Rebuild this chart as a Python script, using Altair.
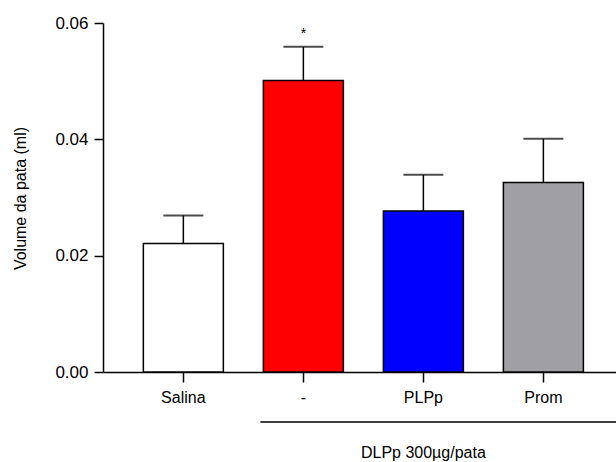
import altair as alt
import pandas as pd

categories = ["Salina", "-", "PLPp", "Prom"]
means = [0.0221, 0.0501, 0.0277, 0.0326]
upper = [0.0269, 0.0559, 0.0339, 0.0401]
colors = ["#FFFFFF", "#FF0000", "#0000FF", "#A0A0A4"]
marks = ["", "*", "", ""]
y_ticks = [0.0, 0.02, 0.04, 0.06]
group_start = ["-"]
group_label_cat = ["PLPp"]
group_label = ["DLPp 300\u00b5g/pata"]

df = pd.DataFrame({"cat": categories, "mean": means, "upper": upper,
                   "color": colors, "mark": marks})
grp_line = pd.DataFrame({"cat": group_start})
grp_text = pd.DataFrame({"cat": group_label_cat, "label": group_label})

FONT = "Liberation Sans"
W, H = 513, 349

xscale = alt.Scale(domain=categories, paddingInner=1/3, paddingOuter=0.304, align=0.553)
xenc = alt.X("cat:N", scale=xscale, sort=categories,
             axis=alt.Axis(title=None, labelAngle=0, labelFontSize=16, labelFont=FONT,
                           labelColor="#000", tickSize=10, tickWidth=1.5, tickColor="#000",
                           domainColor="#000", domainWidth=1.5, labelPadding=7))
yscale = alt.Scale(domain=[0, 0.06], nice=False)
yenc = alt.Y("mean:Q", scale=yscale,
             axis=alt.Axis(title="Volume da pata (ml)", values=y_ticks, format=".2f",
                           grid=False, labelFontSize=17, labelFont=FONT, labelColor="#000",
                           tickSize=9, tickWidth=1.5, tickColor="#000", domainColor="#000",
                           domainWidth=1.5, labelPadding=6, titleFont=FONT,
                           titleFontSize=16, titleFontWeight="normal", titleColor="#000",
                           titleX=-83, titleY=175, titleAngle=-90,
                           titleAlign="center", titleBaseline="middle"))

base = alt.Chart(df)
bars = base.mark_bar(stroke="#000", strokeWidth=1.5).encode(
    x=xenc, y=yenc,
    color=alt.Color("color:N", scale=None))
err = base.mark_rule(color="#000", strokeWidth=1.5).encode(
    x=alt.X("cat:N", sort=categories), y=alt.Y("mean:Q"), y2="upper:Q")
caps = base.mark_tick(color="#000", size=40, thickness=2).encode(
    x=alt.X("cat:N", sort=categories), y=alt.Y("upper:Q"))
star = base.mark_text(fontSize=14, font=FONT, dy=-13, color="#000").encode(
    x=alt.X("cat:N", sort=categories), y=alt.Y("upper:Q"), text="mark:N")
line = alt.Chart(grp_line).mark_rule(color="#000", strokeWidth=1.5, xOffset=-3).encode(
    x=alt.X("cat:N", bandPosition=0, sort=categories), x2=alt.value(W), y=alt.value(399))
label = alt.Chart(grp_text).mark_text(fontSize=16, font=FONT, color="#000",
                                      baseline="middle").encode(
    x=alt.X("cat:N", sort=categories), y=alt.value(430), text="label:N")

chart = alt.layer(bars, err, caps, star, line, label).properties(
    width=W, height=H,
    autosize=alt.AutoSizeParams(type="none"),
    padding={"left": 103, "top": 23, "right": 0, "bottom": 90},
    background="white",
).configure_view(stroke=None)

chart.save("out.html", embed_options={"renderer": "svg", "actions": False})
